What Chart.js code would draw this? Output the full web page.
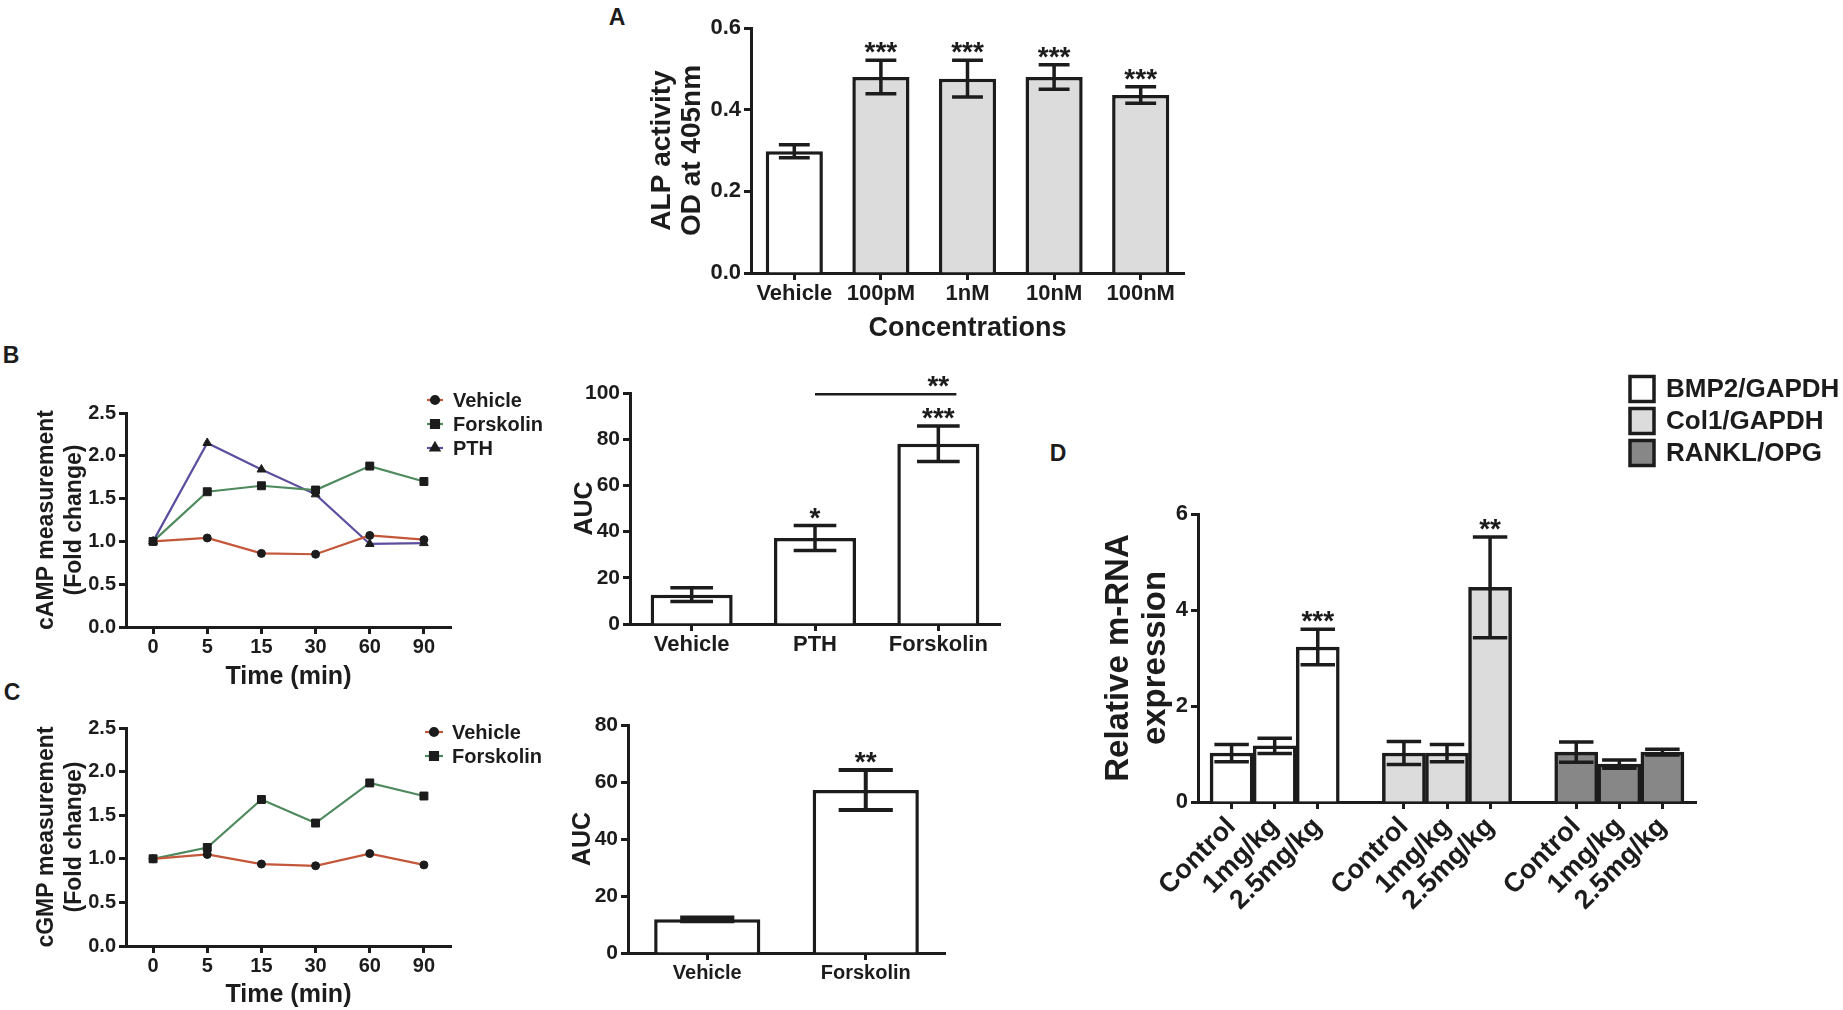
<!DOCTYPE html>
<html>
<head>
<meta charset="utf-8">
<script src="https://cdn.jsdelivr.net/npm/chart.js@4.4.1/dist/chart.umd.min.js"></script>
<style>
  html, body { margin: 0; padding: 0; background: #fff; }
  #fig { position: relative; width: 1843px; height: 1010px; overflow: hidden; background: #fff; }
  canvas { position: absolute; }
  .lab { position: absolute; font: bold 23px "Liberation Sans", Arial, sans-serif; color: #1c1c1c; transform: translate(-50%, -50%); }
</style>
</head>
<body>
<div id="fig">
  <div class="lab" style="left:617px;top:17px">A</div>
  <div class="lab" style="left:11px;top:355px">B</div>
  <div class="lab" style="left:12px;top:692px">C</div>
  <div class="lab" style="left:1058px;top:453px">D</div>
  <canvas id="cA" width="600" height="350" style="left:600px;top:0px"></canvas>
  <canvas id="cB1" width="560" height="360" style="left:0px;top:340px"></canvas>
  <canvas id="cB2" width="500" height="340" style="left:540px;top:340px"></canvas>
  <canvas id="cC1" width="560" height="320" style="left:0px;top:690px"></canvas>
  <canvas id="cC2" width="460" height="320" style="left:540px;top:690px"></canvas>
  <canvas id="cD" width="783" height="640" style="left:1060px;top:370px"></canvas>
</div>
<script>
// ---- data ----
// A: ALP activity
const alpLabels = ['Vehicle', '100pM', '1nM', '10nM', '100nM'];
const alpMean = [0.298, 0.480, 0.476, 0.480, 0.436];
const alpSem = [0.016, 0.041, 0.045, 0.030, 0.020];
const alpStars = ['', '***', '***', '***', '***'];

// B: cAMP time course + AUC
const timeLabels = ['0', '5', '15', '30', '60', '90'];
const campVehicle = [1.00, 1.04, 0.86, 0.85, 1.07, 1.02];
const campForskolin = [1.00, 1.58, 1.65, 1.60, 1.88, 1.70];
const campPTH = [1.00, 2.15, 1.84, 1.55, 0.97, 0.98];
const aucBLabels = ['Vehicle', 'PTH', 'Forskolin'];
const aucBMean = [12.7, 37.2, 78.0];
const aucBSem = [3.0, 5.4, 7.7];
const aucBStars = ['', '*', '***'];

// C: cGMP time course + AUC
const cgmpVehicle = [1.00, 1.05, 0.94, 0.92, 1.06, 0.93];
const cgmpForskolin = [1.00, 1.13, 1.68, 1.41, 1.87, 1.72];
const aucCLabels = ['Vehicle', 'Forskolin'];
const aucCMean = [11.8, 57.2];
const aucCSem = [0.7, 7.0];
const aucCStars = ['', '**'];

// D: relative mRNA expression
const doseLabels = ['Control', '1mg/kg', '2.5mg/kg'];
const geneLabels = ['BMP2/GAPDH', 'Col1/GAPDH', 'RANKL/OPG'];
const bmp2Mean = [1.02, 1.17, 3.23];
const bmp2Sem = [0.18, 0.16, 0.37];
const col1Mean = [1.02, 1.02, 4.47];
const col1Sem = [0.24, 0.18, 1.05];
const ranklMean = [1.04, 0.79, 1.04];
const ranklSem = [0.21, 0.085, 0.06];
const bmp2Stars = ['', '', '***'];
const col1Stars = ['', '', '**'];
const ranklStars = ['', '', ''];

// ---- style ----
const FONT = '"Liberation Sans", Arial, sans-serif';
const INK = '#1c1c1c';
const WHITE = '#ffffff';
const LIGHT = '#dcdcdc';
const DARK = '#878787';
const RED = '#c4573a';
const GREEN = '#4e8a5e';
const PURPLE = '#5c4d9e';

Chart.defaults.font.family = FONT;
Chart.defaults.color = INK;

function f(size, lh) { return { family: FONT, size: size, weight: 'bold', lineHeight: lh || 1.2 }; }

function yAxis(o) {
  return {
    min: o.min, max: o.max,
    ticks: { stepSize: o.step, font: f(o.tick), color: INK, padding: 3,
             callback: v => o.fmt ? o.fmt(v) : v },
    grid: { display: true, drawOnChartArea: false, drawTicks: true, tickLength: 7, tickWidth: 3, tickColor: INK },
    border: { display: true, color: INK, width: 3 },
    title: { display: true, text: o.title, font: f(o.titleSize, o.titleLH), color: INK,
             padding: { top: o.titlePad, bottom: 0 } },
    afterFit: s => { s.width = o.width; }
  };
}

function xCat(o) {
  return {
    type: 'category', offset: true, z: 1,
    ticks: { font: f(o.tick), color: INK, padding: 1, autoSkip: false, maxRotation: 0 },
    grid: { display: true, offset: false, drawOnChartArea: false, drawTicks: true, tickLength: 7, tickWidth: 3, tickColor: INK },
    border: { display: true, color: INK, width: 3 },
    title: o.title ? { display: true, text: o.title, font: f(o.titleSize), color: INK,
                       padding: { top: 0, bottom: o.titlePad } } : { display: false },
    afterFit: s => { s.height = o.height; }
  };
}

// error bars, stars and a bracket, all placed through the chart's own scales
const errorBars = {
  id: 'errorBars',
  afterDatasetsDraw(chart, args, opts) {
    const ctx = chart.ctx, y = chart.scales.y;
    ctx.save();
    ctx.strokeStyle = INK; ctx.fillStyle = INK;
    ctx.lineWidth = opts.lineWidth || 3.5;
    chart.data.datasets.forEach((ds, di) => {
      if (!ds.sem) return;
      const meta = chart.getDatasetMeta(di);
      meta.data.forEach((bar, i) => {
        const v = meta.controller.getParsed(i).y;
        const top = y.getPixelForValue(v + ds.sem[i]);
        const bot = y.getPixelForValue(v - ds.sem[i]);
        const half = bar.width * opts.cap / 2;
        ctx.beginPath();
        ctx.moveTo(bar.x, top); ctx.lineTo(bar.x, bot);
        ctx.moveTo(bar.x - half, top); ctx.lineTo(bar.x + half, top);
        ctx.moveTo(bar.x - half, bot); ctx.lineTo(bar.x + half, bot);
        ctx.stroke();
        const star = ds.stars && ds.stars[i];
        if (star) {
          ctx.font = 'bold ' + opts.starSize + 'px ' + FONT;
          ctx.textAlign = 'center'; ctx.textBaseline = 'alphabetic';
          ctx.fillText(star, bar.x, top + 1);
        }
      });
    });
    const b = opts.bracket;
    if (b) {
      const meta = chart.getDatasetMeta(0);
      const a = meta.data[b.from], c = meta.data[b.to];
      const yy = y.getPixelForValue(b.value);
      ctx.lineWidth = 2.5;
      ctx.beginPath();
      ctx.moveTo(a.x, yy); ctx.lineTo(c.x + c.width * b.extend, yy);
      ctx.stroke();
      ctx.font = 'bold ' + opts.starSize + 'px ' + FONT;
      ctx.textAlign = 'center'; ctx.textBaseline = 'alphabetic';
      ctx.fillText(b.text, c.x, yy + 1);
    }
    ctx.restore();
  }
};

// legend for the line charts: short coloured line with its marker
const lineLegend = {
  id: 'lineLegend',
  afterDraw(chart, args, o) {
    const ctx = chart.ctx, area = chart.chartArea;
    ctx.save();
    chart.data.datasets.forEach((ds, i) => {
      const cy = area.top + o.y + i * o.rowH;
      const x0 = area.right + o.x0, x1 = area.right + o.x1;
      ctx.strokeStyle = ds.borderColor; ctx.lineWidth = ds.borderWidth;
      ctx.beginPath(); ctx.moveTo(x0, cy); ctx.lineTo(x1, cy); ctx.stroke();
      ctx.fillStyle = INK; ctx.strokeStyle = INK;
      Chart.helpers.drawPoint(ctx, { pointStyle: ds.pointStyle, radius: ds.pointRadius, rotation: 0, borderWidth: 1 },
                              (x0 + x1) / 2, cy);
      ctx.font = 'bold ' + o.size + 'px ' + FONT;
      ctx.textAlign = 'left'; ctx.textBaseline = 'middle';
      ctx.fillText(ds.label, area.right + o.tx, cy + 1);
    });
    ctx.restore();
  }
};

// legend for panel D: filled boxes
const boxLegend = {
  id: 'boxLegend',
  afterDraw(chart, args, o) {
    const ctx = chart.ctx, area = chart.chartArea;
    ctx.save();
    o.labels.forEach((lab, i) => {
      const cy = area.top + o.y + i * o.rowH;
      const bx = area.right + o.x;
      ctx.fillStyle = o.fills[i];
      ctx.fillRect(bx, cy - o.boxH / 2, o.boxW, o.boxH);
      ctx.strokeStyle = INK; ctx.lineWidth = 3.5;
      ctx.strokeRect(bx, cy - o.boxH / 2, o.boxW, o.boxH);
      ctx.fillStyle = INK;
      ctx.font = 'bold ' + o.size + 'px ' + FONT;
      ctx.textAlign = 'left'; ctx.textBaseline = 'middle';
      ctx.fillText(lab, bx + o.tx, cy + 1);
    });
    ctx.restore();
  }
};

const base = { responsive: false, animation: false, devicePixelRatio: 1 };

// ---- A ----
new Chart(document.getElementById('cA'), {
  type: 'bar',
  data: { labels: alpLabels, datasets: [{
    data: alpMean, sem: alpSem, stars: alpStars,
    backgroundColor: c => c.dataIndex === 0 ? WHITE : LIGHT,
    borderColor: INK, borderWidth: 3.5, borderSkipped: 'start',
    barPercentage: 0.66, categoryPercentage: 1
  }] },
  options: Object.assign({}, base, {
    layout: { padding: { top: 28, right: 16, left: 0, bottom: 0 } },
    plugins: { legend: { display: false }, tooltip: { enabled: false },
               errorBars: { cap: 0.54, starSize: 28 } },
    scales: {
      x: xCat({ tick: 22, title: 'Concentrations', titleSize: 27, titlePad: 5, height: 77 }),
      y: yAxis({ min: 0, max: 0.6, step: 0.2, tick: 22, fmt: v => v.toFixed(1),
                 title: ['ALP activity', 'OD at 405nm'], titleSize: 28, titleLH: 1.05, titlePad: 48, width: 151 })
    }
  }),
  plugins: [errorBars]
});

// ---- B line ----
function lineSet(label, data, color, style, r) {
  return { label: label, data: data, borderColor: color, borderWidth: 2.2, tension: 0,
           pointStyle: style, pointRadius: r, pointBackgroundColor: INK, pointBorderColor: INK,
           pointBorderWidth: 1, fill: false };
}
const lineScales = (title) => ({
  x: xCat({ tick: 20, title: 'Time (min)', titleSize: 25, titlePad: 0, height: 0 }),
  y: yAxis({ min: 0, max: 2.5, step: 0.5, tick: 20, fmt: v => v.toFixed(1),
             title: [title, '(Fold change)'], titleSize: 23, titlePad: 33, width: 126 })
});

const bScales = lineScales('cAMP measurement');
bScales.x.afterFit = s => { s.height = 73; };
bScales.x.title.padding = { top: 0, bottom: 8 };
new Chart(document.getElementById('cB1'), {
  type: 'line',
  data: { labels: timeLabels, datasets: [
    lineSet('Vehicle', campVehicle, RED, 'circle', 4),
    lineSet('Forskolin', campForskolin, GREEN, 'rect', 5.6),
    lineSet('PTH', campPTH, PURPLE, 'triangle', 5)
  ] },
  options: Object.assign({}, base, {
    layout: { padding: { top: 73, right: 109, left: 0, bottom: 0 } },
    plugins: { legend: { display: false }, tooltip: { enabled: false },
               lineLegend: { x0: -24, x1: -8, tx: 2, y: -13, rowH: 24, size: 20 } },
    scales: bScales
  }),
  plugins: [lineLegend]
});

// ---- B AUC ----
new Chart(document.getElementById('cB2'), {
  type: 'bar',
  data: { labels: aucBLabels, datasets: [{
    data: aucBMean, sem: aucBSem, stars: aucBStars,
    backgroundColor: WHITE, borderColor: INK, borderWidth: 3.5, borderSkipped: 'start',
    barPercentage: 0.665, categoryPercentage: 1
  }] },
  options: Object.assign({}, base, {
    layout: { padding: { top: 53, right: 40, left: 0, bottom: 0 } },
    plugins: { legend: { display: false }, tooltip: { enabled: false },
               errorBars: { cap: 0.52, starSize: 28,
                            bracket: { from: 1, to: 2, value: 99.5, text: '**', extend: 0.22 } } },
    scales: {
      x: xCat({ tick: 22, height: 56 }),
      y: yAxis({ min: 0, max: 100, step: 20, tick: 21, title: 'AUC', titleSize: 25, titlePad: 30, width: 90 })
    }
  }),
  plugins: [errorBars]
});

// ---- C line ----
const cScales = lineScales('cGMP measurement');
cScales.x.afterFit = s => { s.height = 64; };
new Chart(document.getElementById('cC1'), {
  type: 'line',
  data: { labels: timeLabels, datasets: [
    lineSet('Vehicle', cgmpVehicle, RED, 'circle', 4),
    lineSet('Forskolin', cgmpForskolin, GREEN, 'rect', 5.6)
  ] },
  options: Object.assign({}, base, {
    layout: { padding: { top: 38, right: 109, left: 0, bottom: 0 } },
    plugins: { legend: { display: false }, tooltip: { enabled: false },
               lineLegend: { x0: -26, x1: -8, tx: 1, y: 4, rowH: 24, size: 20 } },
    scales: cScales
  }),
  plugins: [lineLegend]
});

// ---- C AUC ----
new Chart(document.getElementById('cC2'), {
  type: 'bar',
  data: { labels: aucCLabels, datasets: [{
    data: aucCMean, sem: aucCSem, stars: aucCStars,
    backgroundColor: WHITE, borderColor: INK, borderWidth: 3.5, borderSkipped: 'start',
    barPercentage: 0.67, categoryPercentage: 1
  }] },
  options: Object.assign({}, base, {
    layout: { padding: { top: 35, right: 55, left: 0, bottom: 0 } },
    plugins: { legend: { display: false }, tooltip: { enabled: false },
               errorBars: { cap: 0.51, starSize: 28, lineWidth: 4 } },
    scales: {
      x: xCat({ tick: 20, height: 57 }),
      y: yAxis({ min: 0, max: 80, step: 20, tick: 21, title: 'AUC', titleSize: 25, titlePad: 28, width: 88 })
    }
  }),
  plugins: [errorBars]
});

// ---- D ----
const geneMeans = [bmp2Mean, col1Mean, ranklMean];
const geneSems = [bmp2Sem, col1Sem, ranklSem];
const geneStars = [bmp2Stars, col1Stars, ranklStars];
const geneFills = [WHITE, LIGHT, DARK];
const slot = doseLabels.length + 1;           // one empty slot between gene groups
const dPoints = [], dSem = [], dStars = [];
geneMeans.forEach((arr, g) => arr.forEach((v, i) => {
  dPoints.push({ x: g * slot + i, y: v });
  dSem.push(geneSems[g][i]);
  dStars.push(geneStars[g][i]);
}));

new Chart(document.getElementById('cD'), {
  type: 'bar',
  data: { datasets: [{
    data: dPoints, sem: dSem, stars: dStars,
    backgroundColor: c => geneFills[Math.floor(c.dataIndex / doseLabels.length)],
    borderColor: INK, borderWidth: 3.5, borderSkipped: 'start',
    barPercentage: 1, categoryPercentage: 1
  }] },
  options: Object.assign({}, base, {
    layout: { padding: { top: 144, right: 147, left: 0, bottom: 0 } },
    plugins: { legend: { display: false }, tooltip: { enabled: false },
               errorBars: { cap: 0.8, starSize: 28 },
               boxLegend: { labels: geneLabels, fills: geneFills, x: -66, y: -125, rowH: 32,
                            boxW: 24, boxH: 25, tx: 36, size: 26 } },
    scales: {
      x: {
        type: 'linear', offset: false, z: 1,
        min: -0.78, max: (geneMeans.length - 1) * slot + doseLabels.length - 1 + 0.78,
        afterBuildTicks: s => { s.ticks = dPoints.map(p => ({ value: p.x })); },
        ticks: { font: f(27), color: INK, padding: 2, autoSkip: false, minRotation: 45, maxRotation: 45,
                 callback: v => doseLabels[v % slot] },
        grid: { display: true, offset: false, drawOnChartArea: false, drawTicks: true, tickLength: 7, tickWidth: 3, tickColor: INK },
        border: { display: true, color: INK, width: 3 },
        afterFit: s => { s.height = 208; }
      },
      y: yAxis({ min: 0, max: 6, step: 2, tick: 22, title: ['Relative m-RNA', 'expression'],
                 titleSize: 33, titleLH: 1.1, titlePad: 41, width: 138 })
    }
  }),
  plugins: [errorBars, boxLegend]
});
</script>
</body>
</html>
